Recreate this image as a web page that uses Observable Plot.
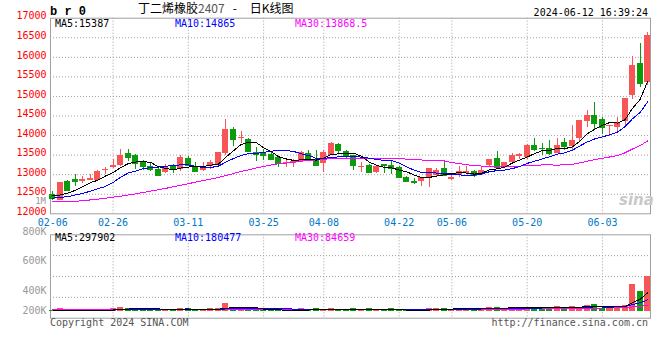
<!DOCTYPE html>
<html><head><meta charset="utf-8">
<script src="https://cdn.jsdelivr.net/npm/d3@7"></script>
<script src="https://cdn.jsdelivr.net/npm/@observablehq/plot@0.6"></script>
<style>
body{margin:0;background:#fff;}
#wrap{position:relative;width:660px;height:360px;overflow:hidden;background:#fff;font-family:"DejaVu Sans Mono",monospace;}
.t{position:absolute;white-space:pre;font-size:10px;line-height:10px;}
#wrap svg{position:absolute;left:0;}
</style></head><body><div id="wrap"></div>
<script>
// ---------- data ----------
const dates = ["02-06","02-07","02-08","02-19","02-20","02-21","02-22","02-23","02-26","02-27","02-28","02-29",
"03-01","03-04","03-05","03-06","03-07","03-08","03-11","03-12","03-13","03-14","03-15","03-18","03-19","03-20","03-21","03-22","03-25","03-26","03-27","03-28","03-29",
"04-01","04-02","04-03","04-08","04-09","04-10","04-11","04-12","04-15","04-16","04-17","04-18","04-19","04-22","04-23","04-24","04-25","04-26","04-29","04-30",
"05-06","05-07","05-08","05-09","05-10","05-13","05-14","05-15","05-16","05-17","05-20","05-21","05-22","05-23","05-24","05-27","05-28","05-29","05-30","05-31",
"06-03","06-04","06-05","06-06","06-07","06-11","06-12"];
const open = [12490,12350,12815,12875,12815,12860,12860,13100,13185,13245,
13530,13500,13300,13200,13140,13050,13200,13130,13415,13185,
13115,13200,13245,13545,14145,13940,13905,13570,13550,13525,
13440,13300,13290,13330,13545,13390,13290,13500,13760,13590,
13485,13200,13245,13045,13260,13245,13175,12920,12830,12815,
12900,12990,13160,12880,12970,13040,13080,13020,13235,13420,
13190,13300,13475,13450,13740,13680,13670,13550,13815,13720,
13915,14370,14510,14400,14220,14215,14370,15025,15850,15365];
const close = [12380,12790,12600,12820,12870,12910,13090,13140,13245,13500,
13440,13290,13200,13130,12970,13200,13120,13430,13245,13080,
13160,13300,13560,14145,13890,13960,13590,13520,13490,13400,
13290,13310,13330,13570,13415,13245,13570,13800,13630,13500,
13225,13210,13050,13220,13230,13160,12925,12830,12805,12925,
13160,13115,12990,12940,13080,13080,12980,13110,13380,13190,
13300,13490,13515,13750,13650,13660,13550,13740,13730,13875,
14385,14510,14320,14215,14250,14300,14940,15790,15320,16560];
const high = [12560,12800,12860,13010,12945,13000,13115,13185,13390,13650,
13650,13510,13350,13290,13160,13270,13270,13500,13475,13300,
13320,13370,13560,14400,14215,14100,13930,13690,13650,13560,
13460,13355,13400,13580,13630,13630,13615,13810,13785,13630,
13490,13300,13260,13230,13270,13330,13200,12960,12900,12930,
13165,13160,13330,12980,13220,13220,13110,13220,13390,13590,
13320,13550,13550,13760,13925,13790,13875,13920,13935,14250,
14390,14640,14855,14470,14260,14455,14945,16020,16360,16645];
const low = [12330,12330,12560,12710,12770,12840,12840,13010,13160,13200,
13330,13140,13115,13070,12970,13030,13030,13070,13200,13050,
13070,13130,13220,13500,13733,13800,13560,13345,13370,13355,
13175,13175,13175,13310,13390,13240,13060,13490,13545,13400,
13115,13050,13030,13030,13030,13010,12900,12790,12760,12710,
12660,12945,12945,12850,12940,13020,12940,12980,13190,13190,
13170,13280,13400,13400,13590,13490,13490,13545,13620,13620,
13850,14215,14150,14030,13980,14115,14230,14915,15240,15280];
const ma5 = [12470,12480,12530,12600,12692,12798,12858,12966,13051,13177,
13283,13323,13335,13312,13206,13158,13124,13170,13193,13215,
13207,13243,13269,13449,13611,13771,13829,13821,13690,13592,
13458,13402,13364,13380,13383,13374,13426,13520,13532,13549,
13545,13473,13323,13241,13187,13174,13117,13073,12990,12929,
12929,12967,12999,13026,13057,13041,13014,13038,13126,13148,
13192,13294,13375,13449,13541,13613,13625,13670,13666,13711,
13856,14048,14164,14261,14336,14319,14405,14699,14920,15382];
const ma10 = [12400,12420,12440,12480,12520,12580,12640,12700,12800,12935,
13041,13091,13151,13182,13192,13221,13224,13253,13253,13211,
13183,13184,13220,13321,13413,13489,13536,13545,13570,13602,
13615,13616,13593,13535,13488,13416,13414,13442,13456,13466,
13460,13450,13422,13387,13368,13360,13295,13198,13116,13058,
13052,13042,13036,13008,12993,12985,12991,13019,13076,13103,
13117,13154,13207,13288,13345,13403,13460,13523,13558,13626,
13735,13837,13917,13964,14024,14088,14227,14432,14591,14859];
const ma30 = [12315,12315,12315,12320,12335,12355,12375,12400,12425,12450,
12480,12510,12545,12580,12615,12650,12690,12730,12770,12810,
12850,12890,12930,12980,13030,13080,13125,13170,13210,13249,
13279,13297,13321,13346,13364,13375,13391,13413,13426,13426,
13419,13416,13411,13414,13423,13422,13415,13395,13380,13375,
13375,13369,13350,13310,13283,13254,13233,13220,13216,13209,
13209,13215,13221,13227,13235,13249,13248,13246,13250,13262,
13301,13344,13387,13420,13454,13492,13559,13658,13741,13863];
const volume = [14000,40000,14000,15000,15000,15000,18000,20000,40000,62000,
46000,46000,46000,46000,14000,14000,14000,46000,46000,14000,
14000,46000,46000,133000,62000,20000,62000,18000,16000,16000,
16000,14000,14000,46000,14000,46000,30000,46000,14000,14000,
46000,14000,46000,14000,14000,46000,14000,14000,14000,14000,
46000,46000,46000,30000,46000,46000,46000,46000,62000,62000,
46000,62000,46000,62000,62000,46000,62000,79000,62000,79000,
62000,95000,111000,46000,46000,79000,95000,440000,330000,575000];
const volMa5 = [20000,20000,20000,20000,19600,19800,15400,16600,21600,31000,
37200,42800,48000,49200,39600,33200,26800,26800,26800,26800,
26800,33200,33200,50600,60200,61400,64600,59000,35600,26400,
25600,16000,15200,21200,20800,26800,30000,36400,30000,30000,
30000,26800,26800,26800,26800,26800,26800,20400,20400,20400,
20400,26800,33200,36400,42800,42800,42800,42800,49200,52400,
52400,55600,55600,55600,55600,55600,55600,62200,62200,65600,
68800,75400,81800,78600,72000,75400,75400,141200,198000,303800];
const volMa10 = [20000,20000,20000,20000,20000,20000,20000,20000,20000,25300,
28500,29100,32300,35400,35300,35200,34800,37400,38000,33200,
30000,30000,30000,38700,43500,44100,48900,46100,43100,43300,
43500,40300,37100,28400,23600,26200,23000,25800,25600,25400,
28400,28400,31600,28400,28400,28400,26800,23600,23600,23600,
23600,26800,26800,28400,31600,31600,34800,38000,42800,47600,
47600,49200,49200,52400,54000,54000,55600,58900,58900,60600,
62200,65500,72000,70400,68800,72100,75400,111500,138300,187900];
const volMa30 = [26000,26000,26000,26000,26000,27000,27000,27000,27000,28000,
28000,29000,29000,30000,30000,30000,30000,31000,31000,31000,
31000,31000,31000,33000,34000,34000,35000,35000,35000,35000,
35000,35000,34000,34000,34000,34000,34000,34000,33000,33000,
33000,33000,33000,32000,32000,32000,31000,31000,30000,29000,
30000,30000,30000,30000,31000,31000,32000,32000,33000,34000,
35000,36000,37000,38000,39000,40000,41000,43000,44000,46000,
47000,50000,53000,54000,55000,57000,59000,71000,81000,96000];
const yTicks = [12000,12500,13000,13500,14000,14500,15000,15500,16000,16500,17000];
const xTickLabels = ["02-06","02-26","03-11","03-25","04-08","04-22","05-06","05-20","06-03"];
const volTickLabels = ["800K","600K","400K","200K"];
const priceLegend = ["MA5:15387","MA10:14865","MA30:13868.5"];
const volLegend = ["MA5:297902","MA10:180477","MA30:84659"];
const titleName = "丁二烯橡胶", titleCode = "2407", titleDash = "-", titleTail = "日K线图";
const brand = "b r 0";
const stamp = "2024-06-12 16:39:24";
const unitLabel = "1M";
const copyright = "Copyright 2024 SINA.COM", url = "http://finance.sina.com.cn";

// ---------- drawing ----------
const RED = "#f85656", GREEN = "#0b9b0b";
const MA_COLORS = ["#000000", "#0000ff", "#ff00ff"];
const GRID = "#a0a0a0";
const mono = "DejaVu Sans Mono, monospace";
const rows = dates.map((d, i) => ({i, d, o: open[i], h: high[i], l: low[i], c: close[i], v: volume[i],
  m5: ma5[i], m10: ma10[i], m30: ma30[i], v5: volMa5[i], v10: volMa10[i], v30: volMa30[i],
  col: close[i] >= open[i] ? RED : GREEN}));
const tickIdx = xTickLabels.map(t => dates.indexOf(t));
const xDom = [-0.305, 79.38];
const half = 0.4;
const wrap = document.getElementById("wrap");

const dotted = {stroke: GRID, strokeOpacity: 1, strokeDasharray: "1,2"};
const crisp = {shapeRendering: "crispEdges"};

const topPlot = Plot.plot({
  width: 660, height: 230,
  marginLeft: 50, marginRight: 10, marginTop: 17.7, marginBottom: 16.7,
  style: {background: "transparent", fontFamily: mono, fontSize: "10px", overflow: "visible"},
  x: {type: "linear", domain: xDom, label: null},
  y: {type: "linear", domain: [12000, 17000], label: null},
  color: {type: "identity"},
  marks: [
    Plot.gridY(yTicks.slice(1, -1), dotted),
    Plot.gridX(tickIdx.slice(1), dotted),
    Plot.frame({stroke: GRID}),
    Plot.axisY(yTicks, {tickSize: 0, tickPadding: 4, fill: "#ff0000", dy: -2, label: null, tickFormat: d => String(d)}),
    Plot.axisX(tickIdx, {tickSize: 0, tickPadding: 5, fill: "#0078c8", label: null, tickFormat: i => dates[i]}),
    Plot.ruleX(rows, {x: "i", y1: "l", y2: "h", stroke: "col", ...crisp}),
    Plot.rect(rows, {x1: r => r.i - half, x2: r => r.i + half, y1: "o", y2: "c", fill: "col", ...crisp}),
    Plot.ruleY(rows, {x1: r => r.i - half, x2: r => r.i + half, y: "c", stroke: "col", ...crisp}),
    Plot.line(rows, {x: "i", y: "m30", stroke: MA_COLORS[2], strokeWidth: 1, ...crisp}),
    Plot.line(rows, {x: "i", y: "m10", stroke: MA_COLORS[1], strokeWidth: 1, ...crisp}),
    Plot.line(rows, {x: "i", y: "m5", stroke: MA_COLORS[0], strokeWidth: 1, ...crisp})
  ]
});
topPlot.style.top = "0px";
wrap.appendChild(topPlot);

const vDom = [-113000, 1254000];
const volLabelAt = [1308000, 828000, 330000, 8000];
const volPlot = Plot.plot({
  width: 660, height: 110,
  marginLeft: 50, marginRight: 10, marginTop: 14.3, marginBottom: 12.3,
  style: {background: "transparent", fontFamily: mono, fontSize: "10px", overflow: "visible"},
  x: {type: "linear", domain: xDom, axis: null, label: null},
  y: {type: "linear", domain: vDom, label: null},
  color: {type: "identity"},
  marks: [
    Plot.gridY([0.25, 0.5, 0.75].map(f => vDom[0] + (vDom[1] - vDom[0]) * f), dotted),
    Plot.gridX(tickIdx.slice(1), dotted),
    Plot.frame({stroke: GRID}),
    Plot.axisY(volLabelAt, {tickSize: 0, tickPadding: 4, fill: "#999999", label: null,
      tickFormat: d => volTickLabels[volLabelAt.indexOf(d)]}),
    Plot.rect(rows, {x1: r => r.i - half, x2: r => r.i + half, y1: 0, y2: "v", fill: "col", ...crisp}),
    Plot.line(rows, {x: "i", y: "v30", stroke: MA_COLORS[2], strokeWidth: 1, ...crisp}),
    Plot.line(rows, {x: "i", y: "v10", stroke: MA_COLORS[1], strokeWidth: 1, ...crisp}),
    Plot.line(rows, {x: "i", y: "v5", stroke: MA_COLORS[0], strokeWidth: 1, ...crisp})
  ]
});
volPlot.style.top = "220px";
wrap.appendChild(volPlot);

// ---------- text ----------
function addText(html, css) {
  const el = document.createElement("div");
  el.className = "t";
  el.innerHTML = html;
  Object.assign(el.style, css);
  wrap.appendChild(el);
  return el;
}
addText(brand, {left: "50px", top: "6px", fontFamily: "Liberation Mono, monospace", fontWeight: "bold", fontSize: "12px", lineHeight: "12px"});
addText(`${titleName}<span style="color:#555">${titleCode}</span><span style="margin-left:8px">${titleDash}</span><span style="margin-left:13px">${titleTail}</span>`,
  {left: "138px", top: "2px", fontFamily: "Noto Sans CJK SC, sans-serif", fontSize: "12px", lineHeight: "12px"});
addText(stamp, {right: "12px", top: "8px"});
const legendX = [55, 175, 295];
priceLegend.forEach((s, k) => addText(s, {left: legendX[k] + "px", top: "19px", color: MA_COLORS[k]}));
volLegend.forEach((s, k) => addText(s, {left: legendX[k] + "px", top: "233px", color: MA_COLORS[k]}));
addText(unitLabel, {right: "614px", top: "198px", color: "#999", fontSize: "9px", lineHeight: "6px"});
addText(copyright, {left: "50px", top: "318px", color: "#555"});
addText(url, {right: "12px", top: "318px", color: "#555"});
addText("sina", {left: "619px", top: "193px", fontFamily: "DejaVu Sans, sans-serif", fontStyle: "italic", fontWeight: "bold", fontSize: "15px", lineHeight: "15px", color: "#c9c9c9"});
</script></body></html>
